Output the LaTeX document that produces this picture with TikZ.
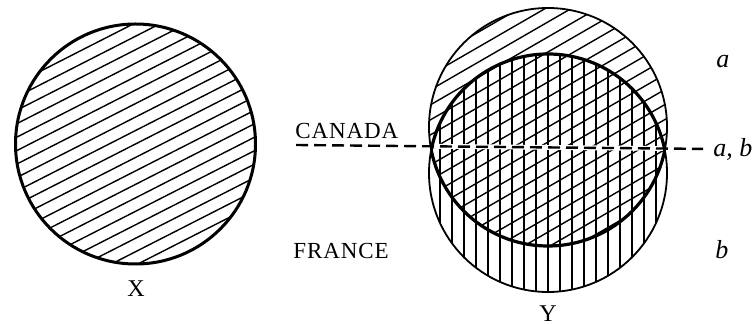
\documentclass[tikz,border=0pt]{standalone}
\usepackage{fontspec}
\setmainfont{Liberation Serif}
\newfontfamily\capsfont[LetterSpace=4]{Liberation Serif}
\usetikzlibrary{positioning}

\begin{document}
\begin{tikzpicture}[
    x=0.5pt, y=-0.5pt,
    outline/.style={line width=1.5pt},
    rimline/.style={line width=0.9pt},
    lensline/.style={line width=1.6pt},
    hatchline/.style={line width=0.7pt},
    cutline/.style={line width=1.2pt, dash pattern=on 6pt off 3pt},
    country/.style={font=\capsfont\fontsize{11.5}{13}\selectfont, inner sep=0pt},
    setname/.style={font=\fontsize{12}{14}\selectfont, inner sep=0pt},
    region/.style={font=\itshape\fontsize{13}{15}\selectfont, inner sep=0pt},
]
    \useasboundingbox (0,0) rectangle (753,325);

    % Set X
    \begin{scope}
      \clip (135.5,144) circle[radius=120];
      \begin{scope}[shift={(135.5,144)}, rotate=27]
        \foreach \d in {-132,-120,...,132}
          \draw[hatchline] (-130,\d) -- (130,\d);
      \end{scope}
    \end{scope}
    \draw[outline] (135.5,144) circle[radius=120];

    % Set Y, part a
    \begin{scope}
      \clip (548,127) circle[radius=119];
      \begin{scope}[shift={(548,127)}, rotate=30]
        \foreach \d in {-130,-117,...,130}
          \draw[hatchline] (-130,\d) -- (130,\d);
      \end{scope}
    \end{scope}
    % Set Y, part b
    \begin{scope}
      \clip (548,173) circle[radius=119];
      \foreach \x in {440,452,...,668}
        \draw[hatchline] (\x,40) -- (\x,300);
    \end{scope}

    % Labels
    \node[country, anchor=base west] (canada) at (295,139) {CANADA};
    \node[country, anchor=base west] (france) at (293,259) {FRANCE};
    \node[setname, anchor=base] (xname) at (136,296) {X};
    \node[setname, anchor=base] (yname) at (548,321) {Y};
    \node[region, anchor=base west] (a) at (716,68) {a};
    \node[region, anchor=west] (ab) at (713,149) {a, b};
    \node[region, anchor=base west] (b) at (715,258) {b};

    % Cut line
    \coordinate (cutL) at (296,145);
    \draw[white, line width=2.4pt, shorten >=5pt] (cutL) -- (ab.west);
    \draw[cutline, shorten >=5pt] (cutL) -- (ab.west);

    % Rims and lens
    \draw[rimline] (548,127) circle[radius=119];
    \draw[rimline] (548,173) circle[radius=119];
    \begin{scope}
      \clip (548,127) circle[radius=119];
      \draw[lensline] (548,173) circle[radius=119];
    \end{scope}
    \begin{scope}
      \clip (548,173) circle[radius=119];
      \draw[lensline] (548,127) circle[radius=119];
    \end{scope}
\end{tikzpicture}
\end{document}
